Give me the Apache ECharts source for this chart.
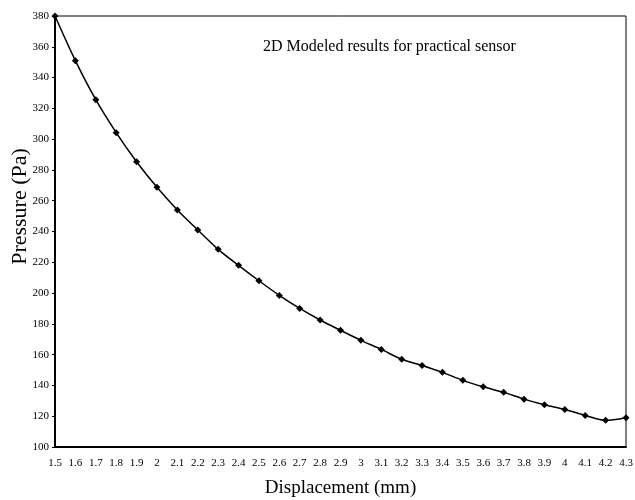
<!DOCTYPE html>
<html>
<head>
<meta charset="utf-8">
<script src="https://cdn.jsdelivr.net/npm/echarts@6/dist/echarts.min.js"></script>
<style>
  html, body { margin: 0; padding: 0; background: #fff; }
  #chart { width: 635px; height: 500px; }
</style>
</head>
<body>
<div id="chart"></div>
<script>
  // displacement in mm (x categories)
  const displacement = ['1.5', '1.6', '1.7', '1.8', '1.9', '2', '2.1', '2.2', '2.3', '2.4',
    '2.5', '2.6', '2.7', '2.8', '2.9', '3', '3.1', '3.2', '3.3', '3.4',
    '3.5', '3.6', '3.7', '3.8', '3.9', '4', '4.1', '4.2', '4.3'];
  // modeled pressure in Pa
  const pressure = [380, 351, 325.6, 304.2, 285.3, 268.7, 254, 241, 228.4, 218,
    208, 198.5, 190, 182.5, 175.8, 169.3, 163.4, 157, 153, 148.5,
    143.3, 139.1, 135.5, 131.1, 127.4, 124.4, 120.5, 117.3, 119];

  const serif = '"Liberation Serif", "DejaVu Serif", serif';
  const chart = echarts.init(document.getElementById('chart'));

  chart.setOption({
    animation: false,
    title: {
      text: '2D Modeled results for practical sensor',
      left: 258,
      top: 34,
      textStyle: { fontFamily: serif, fontSize: 16, fontWeight: 'normal', color: '#000' },
    },
    grid: {
      left: 55,
      right: 9,
      top: 16,
      bottom: 53,
      outerBoundsMode: 'none',
      containLabel: false,
      show: true,
      borderColor: '#000',
      borderWidth: 1,
    },
    xAxis: {
      type: 'category',
      data: displacement,
      boundaryGap: false,
      name: 'Displacement (mm)',
      nameLocation: 'middle',
      nameGap: 32,
      nameMoveOverlap: false,
      nameTextStyle: { fontFamily: serif, fontSize: 19, color: '#000' },
      axisLine: { lineStyle: { color: '#000', width: 2 } },
      axisTick: { show: false },
      axisLabel: { fontFamily: serif, fontSize: 11, color: '#000', margin: 11, interval: 0 },
      splitLine: { show: false },
    },
    yAxis: {
      type: 'value',
      min: 100,
      max: 380,
      interval: 20,
      name: 'Pressure (Pa)',
      nameLocation: 'middle',
      nameGap: 24,
      nameMoveOverlap: false,
      // name sits a little above the axis middle in the original
      nameTextStyle: { fontFamily: serif, fontSize: 22, color: '#000', padding: [0, 0, 0, 50] },
      axisLine: { show: true, lineStyle: { color: '#000', width: 2 } },
      axisTick: { show: true, length: 3, lineStyle: { color: '#000' } },
      axisLabel: { fontFamily: serif, fontSize: 11, color: '#000', margin: 6 },
      splitLine: { show: false },
    },
    series: [
      {
        type: 'line',
        data: pressure,
        smooth: 0.3,
        symbol: 'diamond',
        symbolSize: 7,
        lineStyle: { color: '#000', width: 1.5 },
        itemStyle: { color: '#000' },
      },
    ],
  });
</script>
</body>
</html>
